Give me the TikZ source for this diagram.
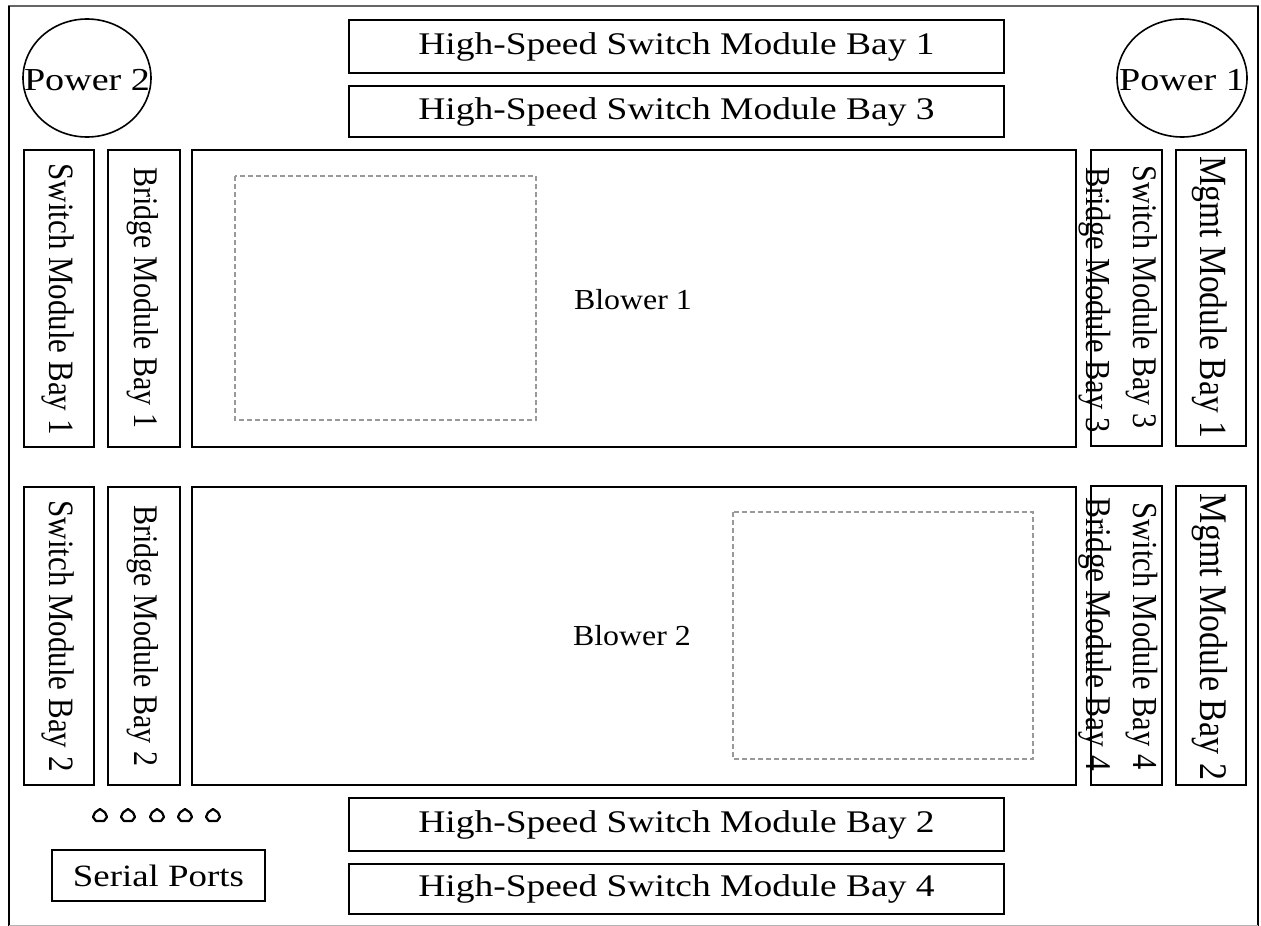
\documentclass[tikz,border=0pt]{standalone}
\usepackage{fontspec}
\setmainfont{Liberation Serif}
\usepackage{graphicx}
\usetikzlibrary{shapes.geometric}
\newcommand\hsq[1]{\scalebox{1.19}[1]{#1}}
\newcommand\vsq[1]{\scalebox{1}[1.15]{#1}}
\newcommand\fs[1]{\fontsize{#1}{#1}\selectfont}
\tikzset{
  box/.style={draw=black, line width=1.6pt, inner sep=0pt, font=\fs{31.5}},
  vlabel/.style={rotate=-90, inner sep=0pt},
  dbox/.style={draw=black!40, line width=1.3pt, dash pattern=on 5pt off 3pt},
  port/.style={draw=black, line width=2.2pt, line join=round},
  pwr/.style={draw=black, line width=1.6pt, ellipse, inner sep=0pt}
}
\begin{document}
\begin{tikzpicture}[x=1pt,y=-1pt]
\useasboundingbox (0,0) rectangle (1261,926);
\fill[white] (0,0) rectangle (1261,926);
% outer frame
\draw[black!60, line width=2.5pt] (8,6) -- (1259,6);
\draw[black, line width=1.8pt] (9,6) -- (9,926);
\draw[black, line width=1.8pt] (1258,6) -- (1258,926);
\draw[black!30, line width=1pt] (9,925) -- (1258,925);

% power supplies
\node[pwr, minimum width=128pt, minimum height=118pt] (p2) at (87,78) {};
\node[font=\fs{32}, inner sep=0pt] (p2t) at (87,80) {\hsq{Power 2}};
\node[pwr, minimum width=130pt, minimum height=118pt] (p1) at (1182,78) {};
\node[font=\fs{32}, inner sep=0pt] (p1t) at (1182,80) {\hsq{Power 1}};

% high-speed bays
\node[box, minimum width=655pt, minimum height=53pt] (hs1) at (676.5,46.5) {\hsq{High-Speed Switch Module Bay 1}};
\node[box, minimum width=655pt, minimum height=51pt] (hs3) at (676.5,111.5) {\hsq{High-Speed Switch Module Bay 3}};
\node[box, minimum width=655pt, minimum height=53pt] (hs2) at (676.5,824.5) {\hsq{High-Speed Switch Module Bay 2}};
\node[box, minimum width=655pt, minimum height=50pt] (hs4) at (676.5,889) {\hsq{High-Speed Switch Module Bay 4}};

% left column
\node[box, minimum width=70pt, minimum height=297pt] (sw1) at (59,298.5) {};
\node[vlabel, font=\fs{31}] (sw1t) at (58,299) {\vsq{Switch Module Bay 1}};
\node[box, minimum width=72pt, minimum height=297pt] (br1) at (144,298.5) {};
\node[vlabel, font=\fs{30}] (br1t) at (143,298) {\vsq{Bridge Module Bay 1}};
\node[box, minimum width=70pt, minimum height=298pt] (sw2) at (59,636) {};
\node[vlabel, font=\fs{31}] (sw2t) at (58,636) {\vsq{Switch Module Bay 2}};
\node[box, minimum width=72pt, minimum height=298pt] (br2) at (144,636) {};
\node[vlabel, font=\fs{30}] (br2t) at (143,636) {\vsq{Bridge Module Bay 2}};

% blowers
\node[box, minimum width=884pt, minimum height=297pt] (bl1) at (634,298.5) {};
\draw[dbox] (235,176) rectangle (536,420);
\node[font=\fs{29}, inner sep=0pt] (bl1t) at (633,300) {\scalebox{1.1}[1]{Blower 1}};
\node[box, minimum width=884pt, minimum height=298pt] (bl2) at (634,636) {};
\draw[dbox] (733,512) rectangle (1033,759);
\node[font=\fs{29}, inner sep=0pt] (bl2t) at (632,636) {\scalebox{1.1}[1]{Blower 2}};

% right column
\node[box, minimum width=71pt, minimum height=296pt] (sb3) at (1126.5,298) {};
\node[vlabel, font=\fs{30}] (sw3t) at (1142,297) {\vsq{Switch Module Bay 3}};
\node[vlabel, font=\fs{30.5}] (br3t) at (1095,300) {\vsq{Bridge Module Bay 3}};
\node[box, minimum width=70pt, minimum height=296pt] (mg1) at (1211,298) {};
\node[vlabel, font=\fs{33.5}] (mg1t) at (1210,297) {\vsq{Mgmt Module Bay 1}};
\node[box, minimum width=71pt, minimum height=299pt] (sb4) at (1126.5,635.5) {};
\node[vlabel, font=\fs{30.5}] (sw4t) at (1142,636) {\vsq{Switch Module Bay 4}};
\node[vlabel, font=\fs{31.5}] (br4t) at (1095,634) {\vsq{Bridge Module Bay 4}};
\node[box, minimum width=70pt, minimum height=299pt] (mg2) at (1211,635.5) {};
\node[vlabel, font=\fs{34}] (mg2t) at (1210,637) {\vsq{Mgmt Module Bay 2}};

% serial ports
\foreach \px in {100,128,157,185,213}
  \draw[port] (\px,816) +(0,-7) -- +(5,-3.5) -- +(7,1) -- +(4,5) -- +(-4,5) -- +(-7,1) -- +(-5,-3.5) -- cycle;
\node[box, minimum width=213pt, minimum height=51pt, font=\fs{31}] (sp) at (158.5,875.5) {\hsq{Serial Ports}};
\end{tikzpicture}
\end{document}
